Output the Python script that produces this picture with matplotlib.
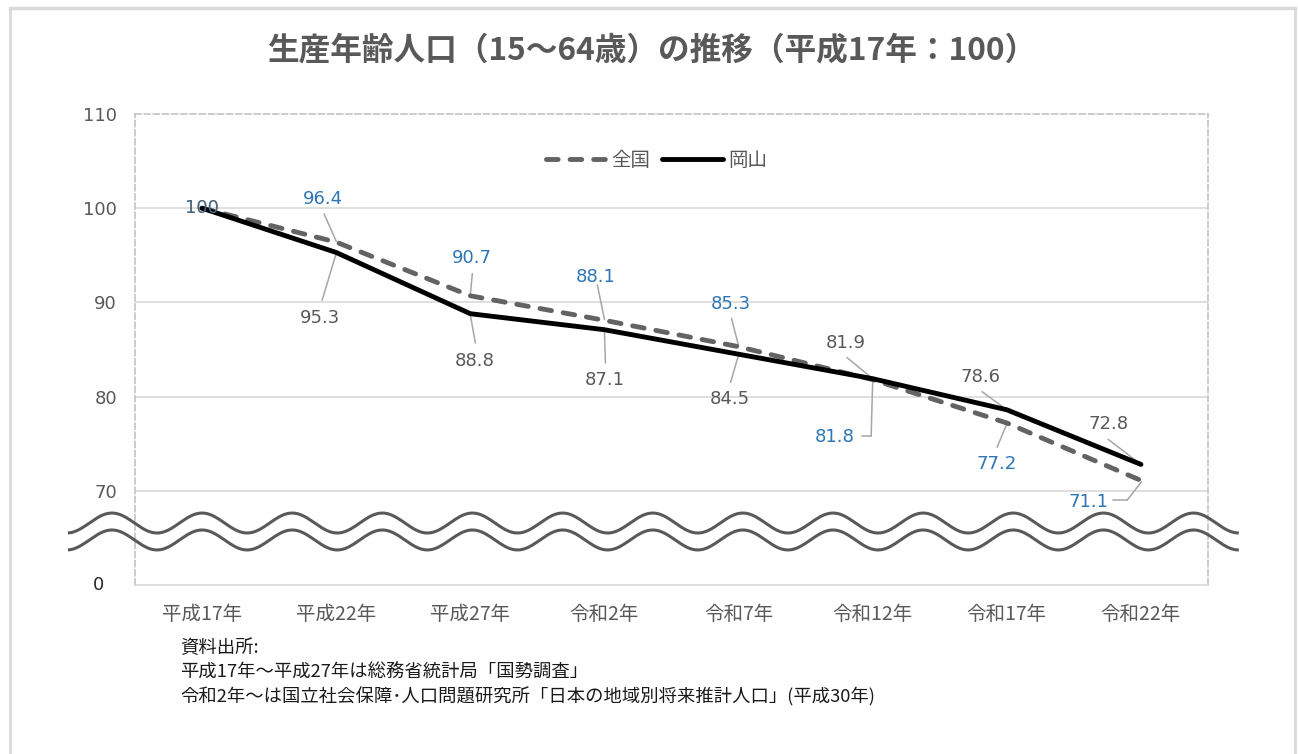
import numpy as np
import matplotlib
matplotlib.use("Agg")
import matplotlib.pyplot as plt
from matplotlib.transforms import ScaledTranslation
from matplotlib.lines import Line2D

plt.rcParams['font.family'] = ['Noto Sans CJK JP', 'DejaVu Sans']

# ---------------- data ----------------
categories = ["平成17年", "平成22年", "平成27年", "令和2年", "令和7年", "令和12年", "令和17年", "令和22年"]
zenkoku = [100, 96.4, 90.7, 88.1, 85.3, 81.8, 77.2, 71.1]
okayama = [100, 95.3, 88.8, 87.1, 84.5, 81.9, 78.6, 72.8]
yticks = [70, 80, 90, 100, 110]
ytick_labels = ["70", "80", "90", "100", "110"]
title = "生産年齢人口（15～64歳）の推移（平成17年：100）"
source_lines = ["資料出所:",
                "平成17年～平成27年は総務省統計局「国勢調査」",
                "令和2年～は国立社会保障･人口問題研究所「日本の地域別将来推計人口」(平成30年)"]

# ---------------- style ----------------
GRAY_TXT = "#595959"
BLUE_TXT = "#2e75b6"
LEADER = "#a6a6a6"
NUMFONT = "DejaVu Sans"

W, H, DPI = 1298, 754, 100
fig = plt.figure(figsize=(W / DPI, H / DPI), dpi=DPI)
fig.patch.set_facecolor("white")

# figure border
fig.add_artist(Line2D([10 / W, 10 / W], [0, 1 - 8 / H], transform=fig.transFigure, color="#d9d9d9", lw=2))
fig.add_artist(Line2D([10 / W, 1295 / W], [1 - 8 / H, 1 - 8 / H], transform=fig.transFigure, color="#d9d9d9", lw=2.5))
fig.add_artist(Line2D([1295 / W, 1295 / W], [0, 1 - 8 / H], transform=fig.transFigure, color="#d9d9d9", lw=2))

ax = fig.add_axes([135 / W, 1 - 585 / H, (1208 - 135) / W, (585 - 114) / H])
x = np.arange(len(categories))
ax.set_xlim(-0.5, len(categories) - 0.5)
ax.set_ylim(60, 110)

# spines
for s in ["top", "left", "right"]:
    ax.spines[s].set_color("#bfbfbf")
    ax.spines[s].set_linewidth(1.1)
    ax.spines[s].set_linestyle((0, (4, 2)))
ax.spines["bottom"].set_color("#d9d9d9")
ax.spines["bottom"].set_linewidth(1.2)

ax.set_yticks(yticks)
ax.set_yticklabels(ytick_labels, family=NUMFONT, fontsize=13, color=GRAY_TXT)
ax.set_xticks(x)
ax.set_xticklabels(categories, fontsize=14, color=GRAY_TXT)
ax.tick_params(axis="y", length=0, pad=13)
ax.tick_params(axis="x", length=0, pad=14)
ax.yaxis.grid(True, color="#d9d9d9", lw=1.2)
ax.get_ygridlines()[-1].set_visible(False)
ax.set_axisbelow(True)

# "0" label at the bottom (broken axis)
ax.text(-0.5, 60, "0", transform=ax.transData + ScaledTranslation(-36 / DPI, 0, fig.dpi_scale_trans),
        ha="center", va="center", fontsize=13, family=NUMFONT, color="#262626")

# lines
ax.plot(x, zenkoku, color="#636363", lw=3.5, linestyle=(0, (2.4, 2.45)),
        dash_capstyle="round", solid_capstyle="round", label="全国", zorder=3)
ax.plot(x, okayama, color="black", lw=3.5, solid_capstyle="round", label="岡山", zorder=4)

leg = ax.legend(loc="center", bbox_to_anchor=(0.486, 0.902), ncol=2, frameon=False,
                handlelength=3.1, handletextpad=0.3, columnspacing=0.6, fontsize=14)
for t in leg.get_texts():
    t.set_color(GRAY_TXT)

# wave break
xw = np.linspace(-1.0, 7.73, 900)
for c in (66.58, 64.78):
    ax.plot(xw, c + 1.06 * np.cos(2 * np.pi * xw / 0.672), color="#595959", lw=2.2,
            clip_on=False, zorder=5, solid_capstyle="butt")


def off(dx, dy):
    return ax.transData + ScaledTranslation(dx / DPI, -dy / DPI, fig.dpi_scale_trans)


# label layouts in pixel offsets (x right, y down) relative to point: text, leader path
z_layout = [((0, 0), None),
            ((-13, -43), [(-12, -28), (0, -1)]),
            ((2, -38), [(2, -22), (0, -1)]),
            ((-9, -43), [(-7, -35), (0, -1)]),
            ((-8, -43), [(-7, -28), (0, -1)]),
            ((-37.5, 57), [(-10.5, 56), (-1.5, 56), (0, 1)]),
            ((-10.6, 41), [(-9.6, 24), (0, 1)]),
            ((-52.7, 21.6), [(-27.7, 19.6), (-13.7, 19.6), (0.3, 1.6)])]
o_layout = [((0, 0), None),
            ((-16, 65.5), [(-14, 47.5), (0, 1)]),
            ((4, 47), [(5, 29), (0, 1)]),
            ((0, 50), [(1, 33), (0, 1)]),
            ((-9, 45), [(-8, 28), (0, 1)]),
            ((-26.5, -36), [(-25.5, -21), (0, 0)]),
            ((-26.6, -33), [(-24.6, -18), (0, 0)]),
            ((-32.7, -40), [(-32.7, -25), (0, 0)])]


def draw_labels(vals, layout, color, overlap_alpha=1.0):
    for i, v in enumerate(vals):
        (tx, ty), path = layout[i]
        lab = f"{v:g}" if v == int(v) else f"{v:.1f}"
        alpha = overlap_alpha if path is None else 1.0
        ax.text(x[i], v, lab, transform=off(tx, ty), ha="center", va="center",
                fontsize=13, family=NUMFONT, color=color, alpha=alpha, zorder=6)
        if path:
            for k in range(len(path) - 1):
                (ax0, ay0), (ax1, ay1) = path[k], path[k + 1]
                seg = Line2D([0, (ax1 - ax0) / DPI], [0, -(ay1 - ay0) / DPI], color=LEADER, lw=1.1, zorder=2)
                seg.set_transform(fig.dpi_scale_trans
                                  + ScaledTranslation(x[i], v, ax.transData)
                                  + ScaledTranslation(ax0 / DPI, -ay0 / DPI, fig.dpi_scale_trans))
                ax.add_line(seg)


draw_labels(okayama, o_layout, GRAY_TXT)
draw_labels(zenkoku, z_layout, BLUE_TXT, overlap_alpha=0.45)

# title
fig.text(652 / W, 1 - 50 / H, title, ha="center", va="center", fontsize=22.8, fontweight="bold", color=GRAY_TXT)

# source
for k, s in enumerate(source_lines):
    fig.text(180 / W, 1 - (648 + 24.5 * k) / H, s, ha="left", va="center", fontsize=13.2, color="#1a1a1a")

fig.savefig("out.png", dpi=DPI)
